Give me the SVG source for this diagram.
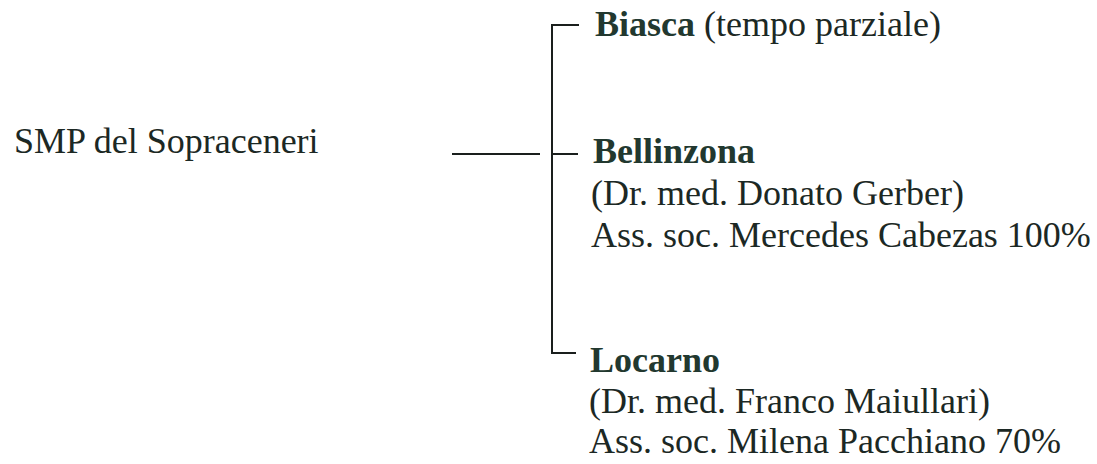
<svg xmlns="http://www.w3.org/2000/svg" width="1097" height="464" viewBox="0 0 1097 464">
<style>
text{font-family:"Liberation Serif","Times New Roman",serif;font-size:36px;fill:#1c2824}
.b{font-weight:bold;fill:#22382f}
.ln{stroke:#1a1f1d;stroke-width:2;fill:none}
</style>
<rect width="1097" height="464" fill="#fff"/>
<g id="connectors">
<line class="ln" x1="452" y1="154" x2="540" y2="154"/>
<path class="ln" d="M579,25 H552 V353 H576"/>
<line class="ln" x1="552" y1="154" x2="578" y2="154"/>
</g>
<g id="root"><text x="14" y="153">SMP del Sopraceneri</text></g>
<g id="biasca"><text x="595" y="36"><tspan class="b">Biasca</tspan> (tempo parziale)</text></g>
<g id="bellinzona">
<text class="b" x="593" y="163">Bellinzona</text>
<text x="591" y="205">(Dr. med. Donato Gerber)</text>
<text x="591" y="247">Ass. soc. Mercedes Cabezas 100%</text>
</g>
<g id="locarno">
<text class="b" x="590" y="372">Locarno</text>
<text x="589" y="413">(Dr. med. Franco Maiullari)</text>
<text x="589" y="453">Ass. soc. Milena Pacchiano 70%</text>
</g>
</svg>
